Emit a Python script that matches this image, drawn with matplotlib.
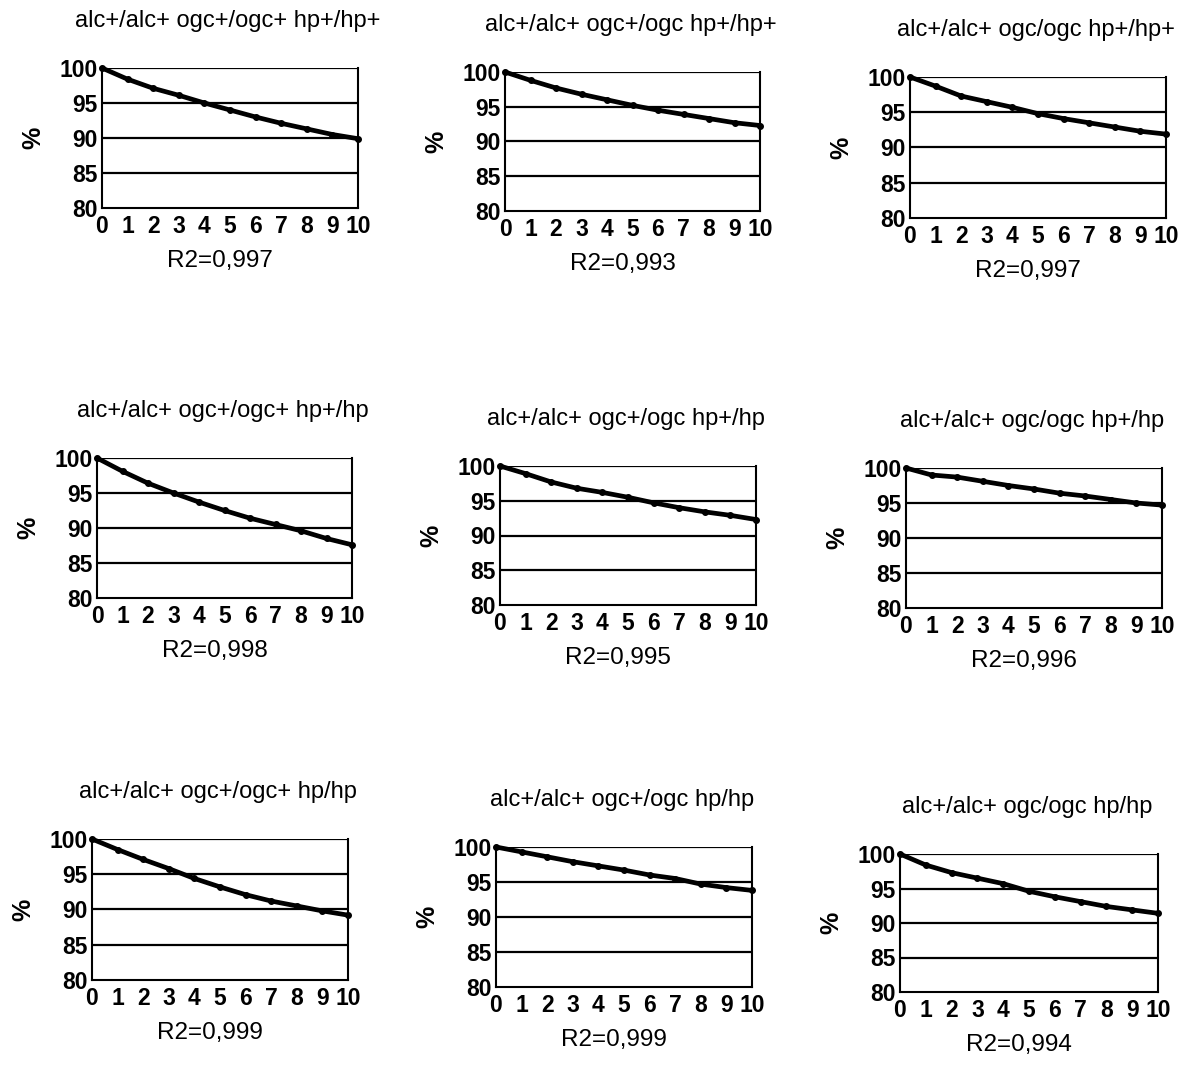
import os
import numpy as np
import matplotlib.pyplot as plt
from matplotlib import font_manager as fm

plt.rcParams['font.family'] = ['Liberation Sans', 'DejaVu Sans']

# bold tick digits: pick the regular-width Liberation Sans Bold file explicitly
bold_file = next((f for f in fm.findSystemFonts()
                  if os.path.basename(f) == 'LiberationSans-Bold.ttf'), None)
if bold_file:
    tick_font = fm.FontProperties(fname=bold_file, size=16.5)
    pct_font = fm.FontProperties(fname=bold_file, size=18)
else:
    tick_font = fm.FontProperties(family='DejaVu Sans', weight='bold', size=15)
    pct_font = fm.FontProperties(family='DejaVu Sans', weight='bold', size=17)

years = [0, 1, 2, 3, 4, 5, 6, 7, 8, 9, 10]

titles = ["alc+/alc+ ogc+/ogc+ hp+/hp+",
          "alc+/alc+ ogc+/ogc hp+/hp+",
          "alc+/alc+ ogc/ogc hp+/hp+",
          "alc+/alc+ ogc+/ogc+ hp+/hp",
          "alc+/alc+ ogc+/ogc hp+/hp",
          "alc+/alc+ ogc/ogc hp+/hp",
          "alc+/alc+ ogc+/ogc+ hp/hp",
          "alc+/alc+ ogc+/ogc hp/hp",
          "alc+/alc+ ogc/ogc hp/hp"]

r2_values = ["0,997", "0,993", "0,997",
             "0,998", "0,995", "0,996",
             "0,999", "0,999", "0,994"]

surv_1 = [100, 98.4, 97.1, 96.1, 95.0, 94.0, 93.0, 92.1, 91.3, 90.5, 89.9]
surv_2 = [100, 98.8, 97.7, 96.8, 96.0, 95.2, 94.5, 93.9, 93.3, 92.7, 92.3]
surv_3 = [100, 98.7, 97.3, 96.5, 95.7, 94.8, 94.1, 93.5, 92.9, 92.3, 91.9]
surv_4 = [100, 98.1, 96.4, 95.0, 93.7, 92.5, 91.4, 90.5, 89.6, 88.5, 87.6]
surv_5 = [100, 98.9, 97.7, 96.8, 96.2, 95.5, 94.7, 94.0, 93.4, 92.9, 92.3]
surv_6 = [100, 99.0, 98.7, 98.1, 97.5, 97.0, 96.4, 96.0, 95.5, 95.0, 94.7]
surv_7 = [100, 98.5, 97.1, 95.8, 94.4, 93.2, 92.1, 91.2, 90.5, 89.8, 89.2]
surv_8 = [100, 99.3, 98.6, 97.9, 97.3, 96.7, 96.0, 95.5, 94.7, 94.2, 93.8]
surv_9 = [100, 98.4, 97.3, 96.5, 95.7, 94.6, 93.8, 93.1, 92.4, 91.9, 91.4]
series = [surv_1, surv_2, surv_3, surv_4, surv_5, surv_6, surv_7, surv_8, surv_9]

W, H = 1182, 1068
# pixel boxes of each plot area: left, right, top, bottom
boxes = [(102, 358, 68, 208), (505, 760, 72, 211), (910, 1166, 77, 218),
         (97, 352, 458, 598), (500, 756, 466, 605), (906, 1162, 468, 608),
         (92, 348, 839, 980), (496, 752, 847, 987), (900, 1158, 854, 992)]

fig = plt.figure(figsize=(W / 100, H / 100), dpi=100)

for i, (l, r, t, b) in enumerate(boxes):
    ax = fig.add_axes([l / W, 1 - b / H, (r - l) / W, (b - t) / H])
    ax.plot(years, series[i], color='black', lw=3.4, solid_capstyle='round',
            zorder=3, clip_on=False)
    ax.plot(years, series[i], 'o', color='black', ms=4, zorder=4, clip_on=False)
    ax.set_xlim(0, 10)
    ax.set_ylim(80, 100)
    ax.set_xticks(years)
    ax.set_yticks([80, 85, 90, 95, 100])
    for y in [85, 90, 95, 100]:
        ax.axhline(y, color='black', lw=1.6, zorder=1)
    for side in ['left', 'right', 'bottom']:
        ax.spines[side].set_linewidth(1.5)
    ax.spines['top'].set_visible(False)
    ax.tick_params(axis='x', length=0, pad=5)
    ax.tick_params(axis='y', length=0, pad=3)
    for lab in ax.get_xticklabels() + ax.get_yticklabels():
        lab.set_fontproperties(tick_font)
    ax.set_ylabel('%', fontproperties=pct_font)
    ax.yaxis.set_label_coords(-57 / (r - l), 0.5)

    cx = (l + r) / 2
    fig.text((cx - 2) / W, 1 - (t - 47) / H, titles[i], ha='center', va='center',
             fontsize=17)
    fig.text((cx - 10) / W, 1 - (b + 53) / H, 'R2=' + r2_values[i],
             ha='center', va='center', fontsize=17.5)

fig.savefig('out.png', dpi=100, facecolor='white')
